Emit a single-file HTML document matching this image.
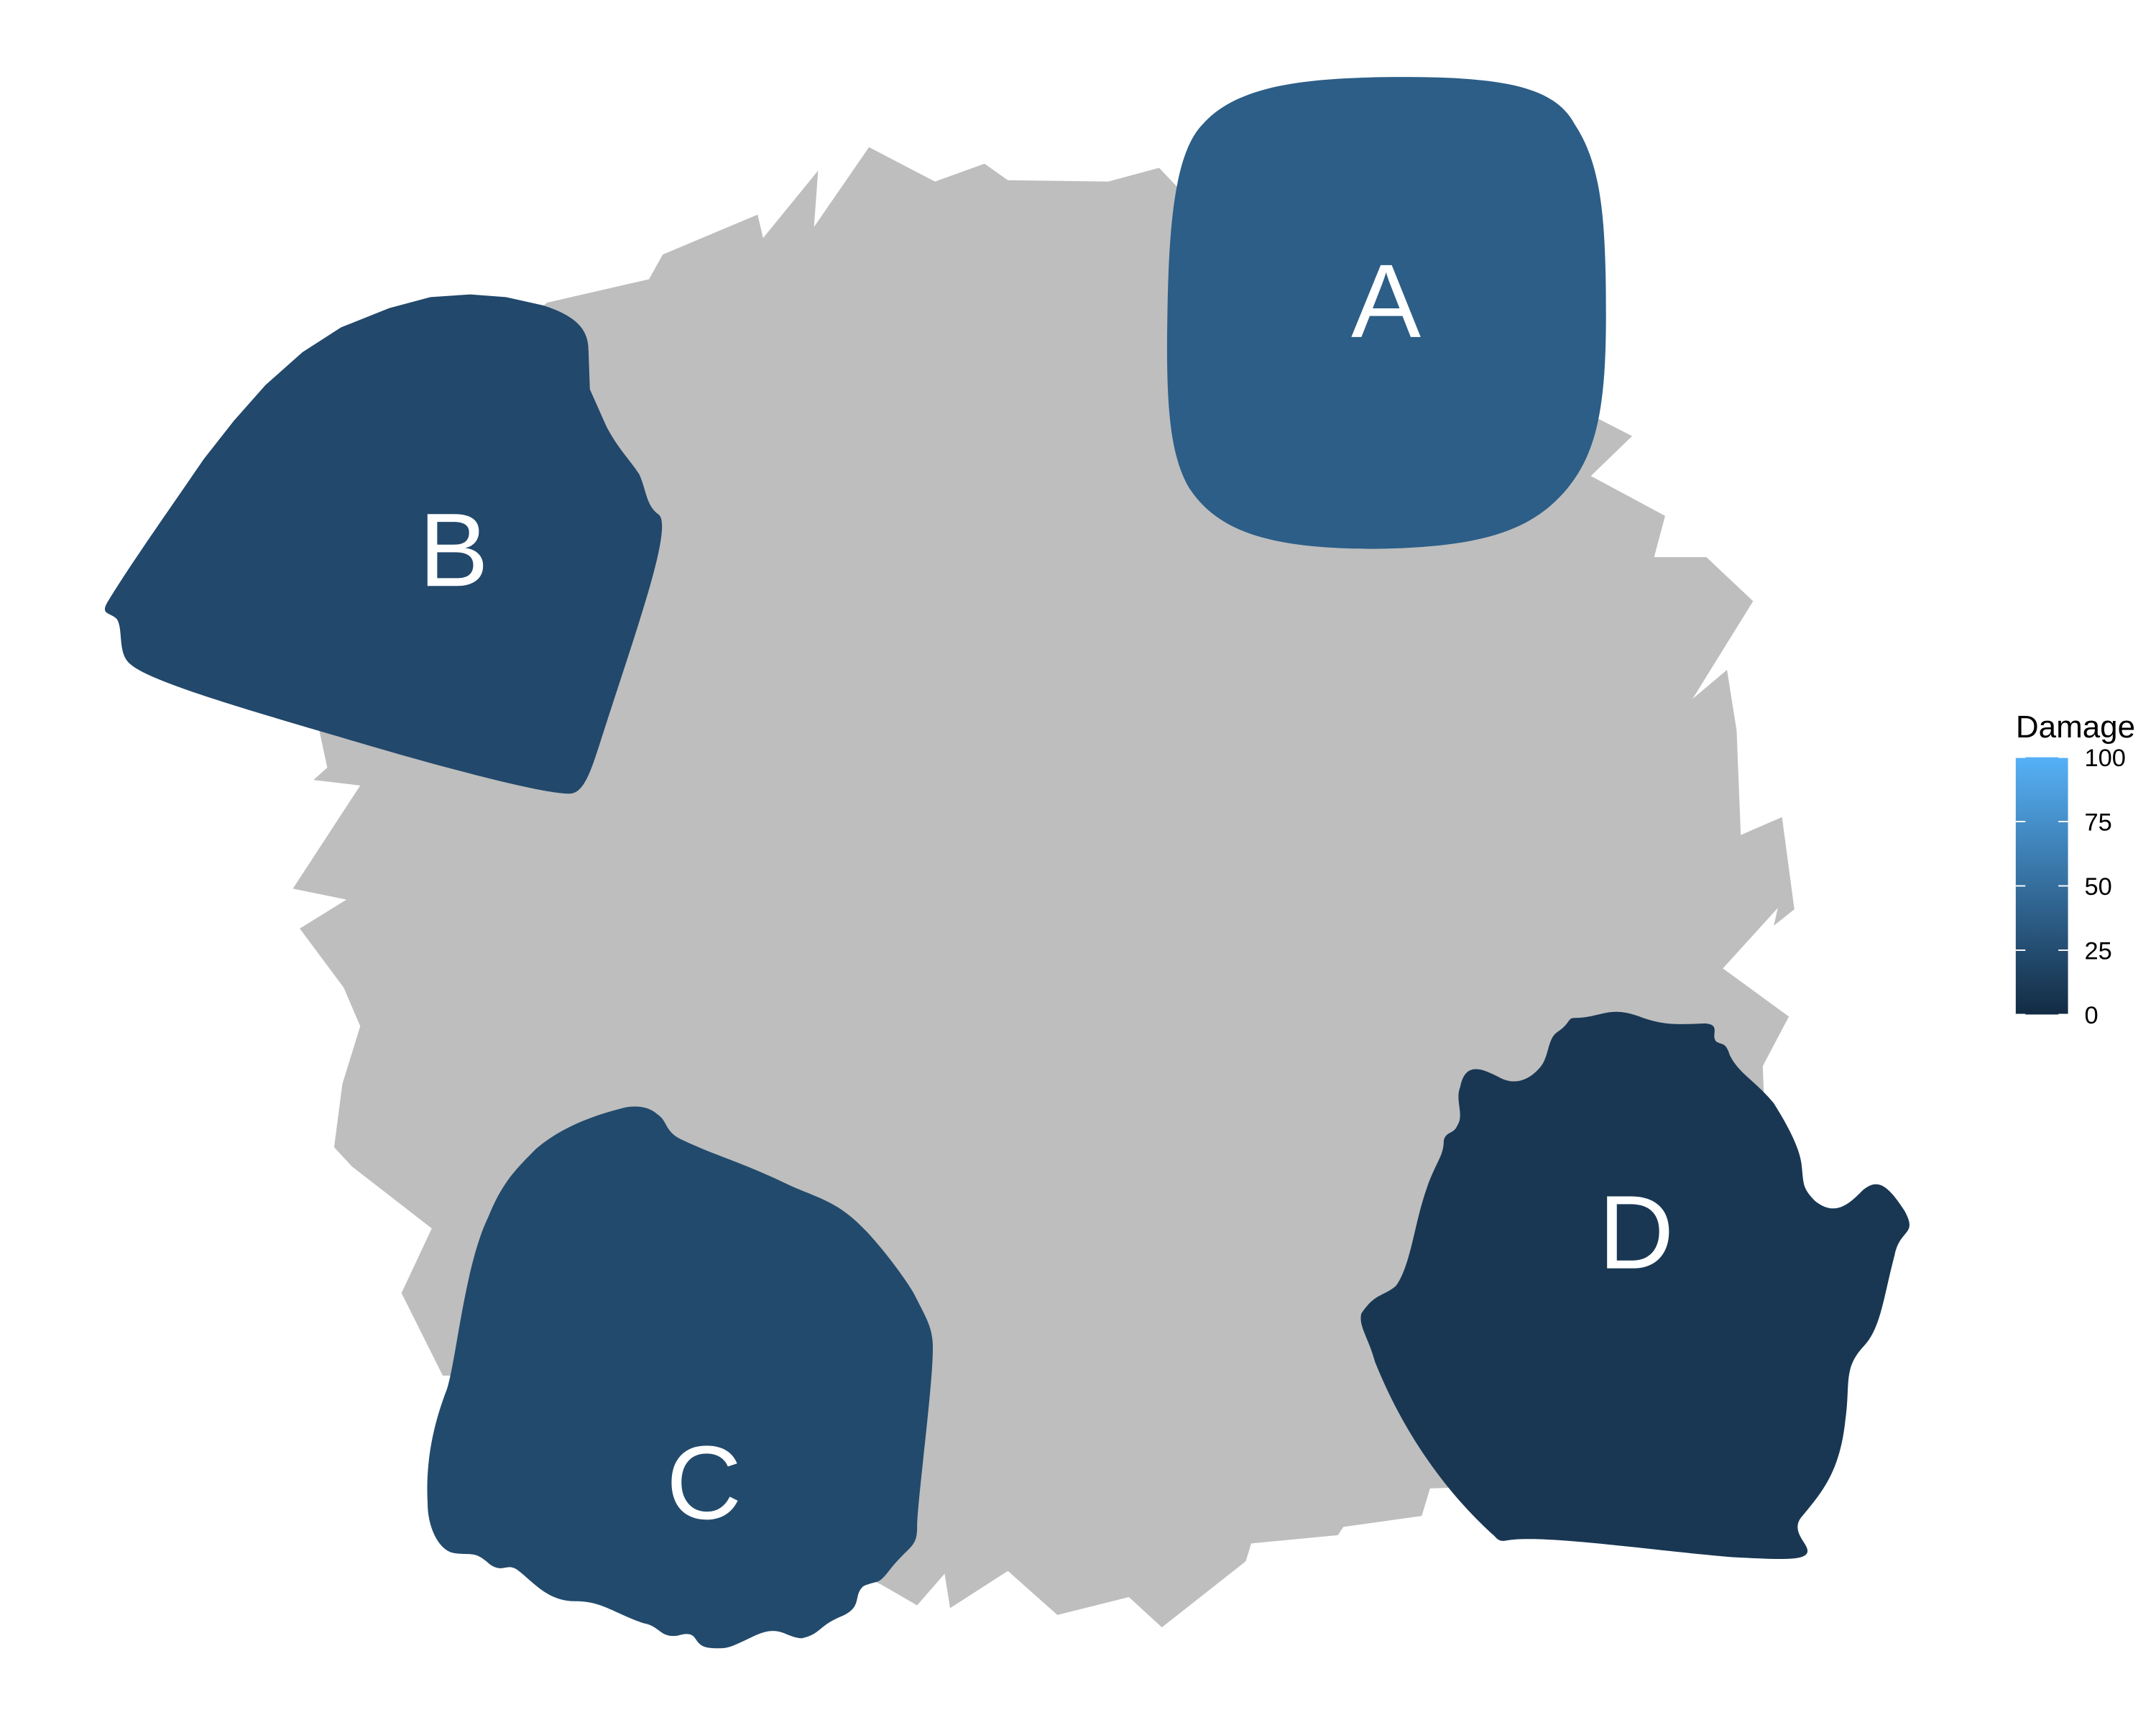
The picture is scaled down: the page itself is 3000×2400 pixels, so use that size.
<!DOCTYPE html>
<html><head><meta charset="utf-8"><style>
html,body{margin:0;padding:0;background:#fff;}
svg{display:block;}
</style></head><body>
<svg id="chart" width="3000" height="2400" viewBox="0 0 1568 1254" preserveAspectRatio="none" xmlns="http://www.w3.org/2000/svg" font-family="Liberation Sans, Arial, sans-serif">
<polygon fill="#bebebe" points="632,107 680,132 716,119 733,131 806,132 843,122 860,140 1150,298 1187,317 1157,346 1211,375 1203,405 1241,405 1275,437 1231,508 1256,487 1263,531 1266,607 1296,594 1305,661 1290,673 1293,660 1253,704 1301,739 1282,775 1283,800 1250,900 1100,1080 1040,1082 1034,1102 977,1110 973,1116 910,1122 906,1135 845,1183 821,1161 769,1174 733,1142 691,1169 687,1144 667,1167 641,1152 330,1000 322,1000 292,940 314,893 256,848 243,834 249,788 262,746 250,718 218,675 252,654 213,646 262,571 228,567 238,558 232,530 300,300 398,220 472,203 482,185 551,156 555,173 595,124 592,165"/>
<g id="regions"></g>
<g id="legend"></g>
</svg>
<script>
const regionNames = ["A","B","C","D"];
const damageValues = [38, 22, 23, 9];
const legendTicks = [0,25,50,75,100];

const shapes = {
 A:"M1020,56 C1090,56 1130,62 1145,90 C1165,120 1168,160 1168,230 C1168,300 1160,330 1140,355 C1115,385 1080,398 1000,399 C920,399 885,385 865,355 C850,330 848,290 849,230 C850,160 855,110 875,90 C900,62 950,56 1020,56 Z",
 B:"M342,214 L368,216 L395,222 C420,230 428,240 428,255 L429,283 L441,310 C450,327 458,334 465,345 C470,356 470,368 479,374 C490,383 462,460 438,535 C430,560 425,577 414,577 C395,577 330,560 265,541 C180,516 110,496 95,483 C85,475 90,458 85,450 C80,445 73,447 78,438 C95,410 120,375 148,334 L170,306 L193,280 L220,256 L248,238 L283,224 L313,216 Z",
 C:"M478,810 C486,815 483,823 497,829 C520,840 540,845 575,862 C598,872 610,874 630,895 C645,911 660,932 665,941 C672,955 677,963 678,973 C681,990 667,1090 667,1110 C667,1125 662,1123 648,1140 C638,1153 640,1148 628,1153 C620,1160 628,1168 612,1175 C595,1182 597,1188 583,1191 C570,1190 567,1180 547,1190 C532,1197 530,1199 517,1198 C502,1197 510,1184 493,1189 C480,1191 480,1182 468,1180 C445,1172 438,1164 418,1164 C398,1164 388,1150 376,1141 C368,1136 366,1144 356,1137 C345,1127 343,1131 330,1129 C319,1127 311,1110 311,1093 C310,1074 311,1046 325,1010 C332,988 338,920 355,885 C365,860 375,850 390,835 C410,818 435,810 455,805 C466,803 474,806 478,810 Z",
 D:"M1145,740 C1165,740 1170,730 1195,740 C1210,745 1218,745 1240,744 C1252,745 1244,752 1248,757 C1252,760 1255,757 1258,767 C1265,781 1276,785 1290,802 C1300,818 1308,833 1310,845 C1312,860 1310,863 1320,873 C1335,885 1345,875 1355,865 C1365,857 1372,860 1385,880 C1395,898 1382,893 1378,912 C1370,942 1368,965 1356,978 C1340,995 1346,1005 1342,1033 C1338,1070 1325,1085 1310,1103 C1303,1112 1312,1120 1314,1125 C1318,1135 1300,1134 1260,1132 C1200,1127 1120,1115 1095,1120 C1089,1121 1088,1117 1085,1115 C1050,1083 1020,1040 1000,990 C995,972 988,964 990,955 C1000,940 1005,943 1015,935 C1025,922 1028,895 1035,872 C1043,845 1050,842 1050,829 C1052,822 1057,825 1060,818 C1065,810 1058,800 1062,790 C1066,770 1080,778 1092,784 C1105,790 1115,782 1120,776 C1127,768 1125,755 1133,750 C1142,744 1140,740 1145,740 Z"
};
const labelPos = {A:[1008,245],B:[330,426],C:[512,1104],D:[1190,922]};

const lo=[0x13,0x2B,0x43], hi=[0x56,0xB1,0xF7];
function colorScale(v){const t=Math.max(0,Math.min(1,v/100));return "rgb("+lo.map((c,i)=>Math.round(c+(hi[i]-c)*t)).join(",")+")";}

const NS="http://www.w3.org/2000/svg";
const reg=document.getElementById("regions");
regionNames.forEach((n,i)=>{
 const p=document.createElementNS(NS,"path");
 p.setAttribute("d",shapes[n]);
 p.setAttribute("fill",colorScale(damageValues[i]));
 
 
 reg.appendChild(p);
 const t=document.createElementNS(NS,"text");
 t.setAttribute("x",labelPos[n][0]);t.setAttribute("y",labelPos[n][1]);
 t.setAttribute("text-anchor","middle");t.setAttribute("fill","#fff");t.setAttribute("font-size","76");
 t.textContent=n;
 
 
 reg.appendChild(t);
});

const lg=document.getElementById("legend");
const barX=1466, barW=38, barTop=550.5, barBot=737.5;
const yScale=v=>barBot-(barBot-barTop)*v/100;
lg.innerHTML='<defs><linearGradient id="grad" x1="0" y1="1" x2="0" y2="0"><stop offset="0" stop-color="'+colorScale(0)+'"/><stop offset="1" stop-color="'+colorScale(100)+'"/></linearGradient></defs>';
const title=document.createElementNS(NS,"text");
title.setAttribute("x",1466);title.setAttribute("y",536);title.setAttribute("font-size","23");title.setAttribute("fill","#000");
title.textContent="Damage";


lg.appendChild(title);
const bar=document.createElementNS(NS,"rect");
bar.setAttribute("x",barX);bar.setAttribute("y",barTop);bar.setAttribute("width",barW);bar.setAttribute("height",barBot-barTop);bar.setAttribute("fill","url(#grad)");


lg.appendChild(bar);
legendTicks.forEach(v=>{
 const y=yScale(v);
 [[barX,barX+7],[barX+barW-7,barX+barW]].forEach(([a,b])=>{
  const l=document.createElementNS(NS,"line");
  l.setAttribute("x1",a);l.setAttribute("x2",b);l.setAttribute("y1",y);l.setAttribute("y2",y);
  l.setAttribute("stroke","#fff");l.setAttribute("stroke-width","1");
  
  
  lg.appendChild(l);
 });
 const t=document.createElementNS(NS,"text");
 t.setAttribute("x",1516);t.setAttribute("y",y+6.5);t.setAttribute("font-size","18");t.setAttribute("fill","#000");
 t.textContent=v;
 
 
 lg.appendChild(t);
});
</script>
</body></html>
